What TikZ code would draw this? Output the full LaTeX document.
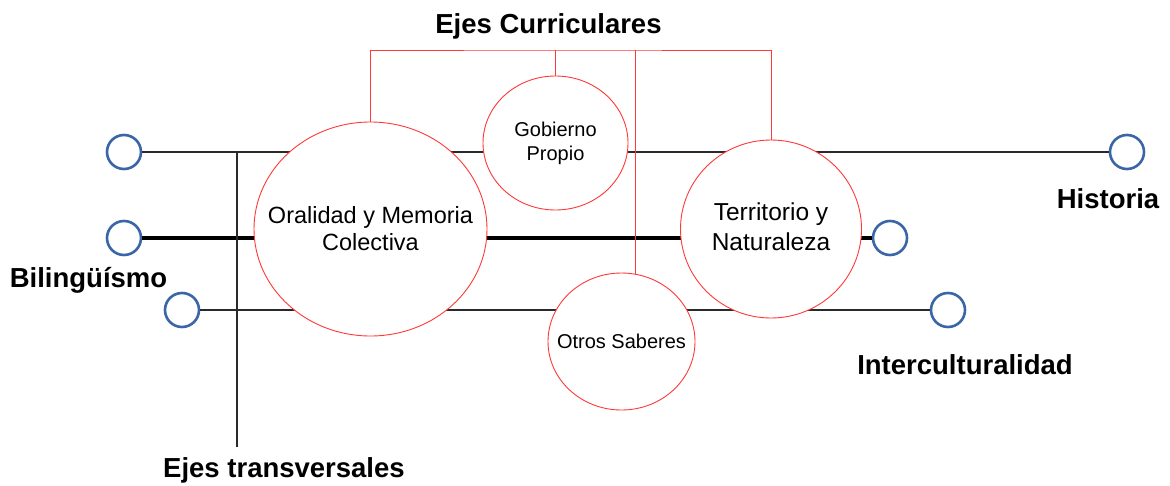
\documentclass[tikz,border=0pt]{standalone}
\usepackage{fontspec}
\setmainfont{Liberation Sans}
\usetikzlibrary{shapes.geometric}
\definecolor{cred}{HTML}{FF3838}
\definecolor{cblue}{HTML}{3A66A8}
\definecolor{cline}{HTML}{2A2A2A}
\tikzset{
  dot/.style={circle,draw=cblue,line width=2.6pt,fill=white,minimum size=34pt,inner sep=0pt},
  eje/.style={ellipse,draw=cred,line width=0.9pt,fill=white,inner sep=0pt},
  ejetext/.style={align=center,text=black,inner sep=0pt},
  thinline/.style={draw=cline,line width=1.2pt},
  thickline/.style={draw=black,line width=3.4pt},
  redline/.style={draw=cred,line width=1pt},
  biglabel/.style={font=\fontsize{27.5}{30}\selectfont\bfseries,inner sep=0pt,anchor=base}
}
\begin{document}
\begin{tikzpicture}[x=1pt,y=-1pt]
\useasboundingbox[fill=white] (0,0) rectangle (1170,485);
% small blue circles
\node[dot] (c1) at (124,152) {};
\node[dot] (c2) at (124,238) {};
\node[dot] (c3) at (182,310) {};
\node[dot] (c4) at (890,238) {};
\node[dot] (c5) at (948,310) {};
\node[dot] (c6) at (1127,152) {};
% horizontal axes
\draw[thinline] (c1) -- (c6);
\draw[thickline] (c2) -- (c4);
\draw[thinline] (c3) -- (c5);
% vertical transversal line
\coordinate (vtop) at (237,152);
\coordinate (vbot) at (237,447);
\draw[thinline,line width=1.1pt] (vtop) -- (vbot);
% curricular ellipses
\node[eje,minimum width=233pt,minimum height=214pt] (orl) at (370.5,229) {};
\node[eje,minimum width=145pt,minimum height=134pt] (gob) at (555.5,143) {};
\node[eje,minimum width=181pt,minimum height=178pt] (ter) at (771,229) {};
\node[eje,minimum width=147pt,minimum height=137pt] (ots) at (621.5,341.5) {};
\node[ejetext,font=\fontsize{23.5}{27}\selectfont] (torl) at (orl.center) {Oralidad y Memoria\\Colectiva};
\node[ejetext,font=\fontsize{20}{24}\selectfont] (tgob) at (gob.center) {Gobierno\\Propio};
\node[ejetext,font=\fontsize{24.5}{30}\selectfont] (tter) at ([yshift=2pt]ter.center) {Territorio y\\Naturaleza};
\node[ejetext,font=\fontsize{20}{24}\selectfont] (tots) at (ots.center) {Otros Saberes};
% red bracket
\coordinate (br) at (555,50);
\draw[redline] (orl.north) |- (br) -| (ter.north);
\draw[redline] (gob.north) -- (gob.north |- br);
\draw[redline] (ots.78) -- (ots.78 |- br);
% labels
\node[biglabel] (tcur) at (548.5,33) {Ejes Curriculares};
\node[biglabel] (tbil) at (88.5,287) {Bilingüísmo};
\node[biglabel] (this) at (1108,208) {Historia};
\node[biglabel] (tint) at (965,374) {Interculturalidad};
\node[biglabel] (ttra) at (284,477) {Ejes transversales};
\end{tikzpicture}
\end{document}
